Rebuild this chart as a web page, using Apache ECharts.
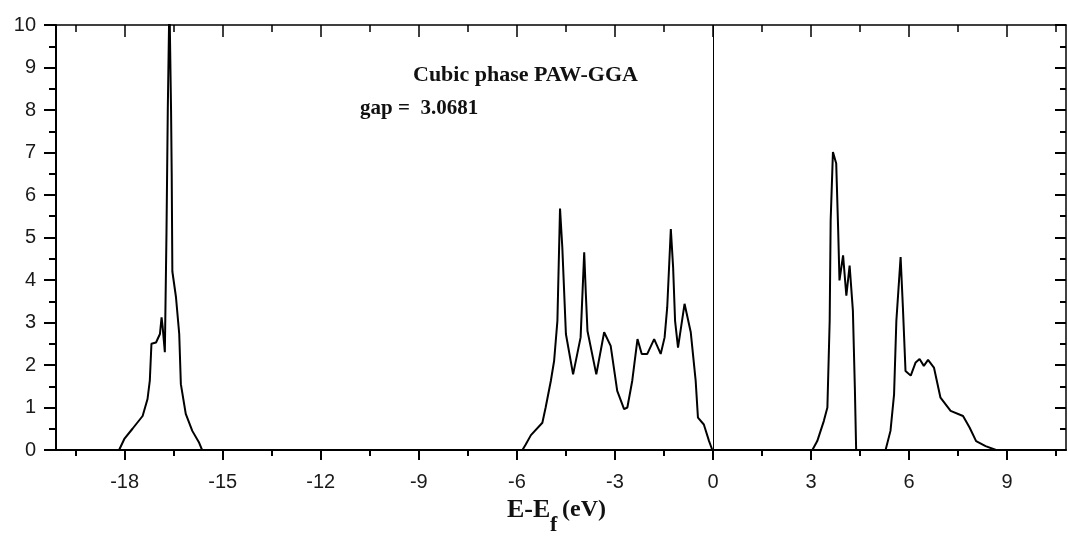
<!DOCTYPE html>
<html lang="en">
<head>
    <meta charset="UTF-8">
    <title>Cubic phase PAW-GGA DOS</title>
    <script src="https://cdn.jsdelivr.net/npm/echarts@6/dist/echarts.min.js"></script>
    <style>
        html, body { margin: 0; padding: 0; background: #fff; }
        #chart { width: 1068px; height: 538px; }
    </style>
</head>
<body>
    <div id="chart"></div>
    <script>
        // energy (E-Ef, eV) and DOS values
        var energy = [
            -20.1, -18.17, -18.01, -17.76, -17.45, -17.3, -17.23, -17.18, -17.04, -16.92, -16.87, -16.84, -16.77,
            -16.72, -16.68, -16.63, -16.58, -16.56, -16.54, -16.43, -16.33, -16.28, -16.13, -15.93, -15.72, -15.63,
            -5.83, -5.73, -5.57, -5.22, -5.12, -4.96, -4.86, -4.76, -4.68, -4.61, -4.5, -4.28, -4.05, -3.94, -3.89,
            -3.84, -3.57, -3.33, -3.13, -2.93, -2.72, -2.62, -2.47, -2.31, -2.18, -2.01, -1.8, -1.6, -1.48, -1.4,
            -1.29, -1.22, -1.16, -1.07, -0.87, -0.68, -0.53, -0.46, -0.28, -0.12, -0.02,
            3.04, 3.19, 3.39, 3.5, 3.57, 3.6, 3.67, 3.77, 3.83, 3.87, 3.98, 4.08, 4.18, 4.28, 4.34, 4.38,
            5.28, 5.43, 5.54, 5.61, 5.74, 5.81, 5.89, 6.05, 6.2, 6.32, 6.45, 6.58, 6.76, 6.96, 7.27, 7.65, 7.85,
            8.05, 8.34, 8.66, 10.8
        ];
        var dos = [
            0, 0, 0.26, 0.5, 0.8, 1.2, 1.63, 2.5, 2.53, 2.73, 3.12, 2.92, 2.3,
            5.1, 8.0, 10.6, 8.0, 6.5, 4.2, 3.6, 2.73, 1.55, 0.85, 0.45, 0.17, 0,
            0, 0.13, 0.35, 0.64, 1.0, 1.63, 2.1, 3.04, 5.68, 4.77, 2.73, 1.78, 2.65, 4.65, 3.67,
            2.8, 1.78, 2.77, 2.45, 1.39, 0.96, 1.0, 1.63, 2.61, 2.26, 2.26, 2.61, 2.26, 2.65, 3.36,
            5.2, 4.3, 3.04, 2.41, 3.44, 2.77, 1.63, 0.76, 0.6, 0.21, 0,
            0, 0.21, 0.68, 1.0, 3.04, 5.4, 7.01, 6.74, 5.17, 3.99, 4.58, 3.63, 4.34, 3.28, 1.47, 0,
            0, 0.45, 1.31, 3.04, 4.54, 3.36, 1.86, 1.75, 2.06, 2.14, 1.98, 2.12, 1.94, 1.23, 0.92, 0.8, 0.53,
            0.21, 0.09, 0, 0
        ];
        var xMajorTicks = [-18, -15, -12, -9, -6, -3, 0, 3, 6, 9];
        var xMinorTicks = [-19.5, -16.5, -13.5, -10.5, -7.5, -4.5, -1.5, 1.5, 4.5, 7.5, 10.5];
        var xMin = -20.1, xMax = 10.8;

        var points = energy.map(function (e, i) { return [e, dos[i]]; });

        var sans = 'Liberation Sans, Arial, sans-serif';
        var serif = 'Liberation Serif, Times New Roman, serif';

        var myChart = echarts.init(document.getElementById('chart'));
        var option = {
            animation: false,
            backgroundColor: '#fff',
            grid: { left: 56, right: 2, top: 25, bottom: 88 },
            xAxis: [
                { // bottom, major ticks + labels
                    type: 'value', min: xMin, max: xMax, position: 'bottom',
                    axisLine: { onZero: false, lineStyle: { color: '#000', width: 2 } },
                    axisTick: { customValues: xMajorTicks, length: 10, lineStyle: { color: '#000', width: 2 } },
                    axisLabel: { customValues: xMajorTicks, fontSize: 20, color: '#1a1a1a', fontFamily: sans, margin: 22 },
                    splitLine: { show: false }
                },
                { // bottom minor ticks
                    type: 'value', min: xMin, max: xMax, position: 'bottom',
                    axisLine: { show: false, onZero: false },
                    axisTick: { customValues: xMinorTicks, length: 6, lineStyle: { color: '#000', width: 2 } },
                    axisLabel: { show: false },
                    splitLine: { show: false }
                },
                { // top mirror
                    type: 'value', min: xMin, max: xMax, position: 'top',
                    axisLine: { onZero: false, lineStyle: { color: '#000', width: 1.5 } },
                    axisTick: { inside: true, customValues: xMajorTicks, length: 12, lineStyle: { color: '#000', width: 1.5 } },
                    axisLabel: { show: false },
                    splitLine: { show: false }
                },
                {
                    type: 'value', min: xMin, max: xMax, position: 'top',
                    axisLine: { show: false, onZero: false },
                    axisTick: { inside: true, customValues: xMinorTicks, length: 7, lineStyle: { color: '#000', width: 1.5 } },
                    axisLabel: { show: false },
                    splitLine: { show: false }
                }
            ],
            yAxis: [
                {
                    type: 'value', min: 0, max: 10, interval: 1, position: 'left',
                    axisLine: { show: true, onZero: false, lineStyle: { color: '#000', width: 2 } },
                    axisTick: { show: true, length: 12, lineStyle: { color: '#000', width: 2 } },
                    minorTick: { show: true, splitNumber: 2, length: 7, lineStyle: { color: '#000', width: 2 } },
                    axisLabel: { fontSize: 20, color: '#1a1a1a', fontFamily: sans, margin: 20 },
                    splitLine: { show: false }
                },
                {
                    type: 'value', min: 0, max: 10, interval: 1, position: 'right',
                    axisLine: { show: true, onZero: false, lineStyle: { color: '#000', width: 1.5 } },
                    axisTick: { show: true, inside: true, length: 11, lineStyle: { color: '#000', width: 2 } },
                    minorTick: { show: true, splitNumber: 2, length: 6, lineStyle: { color: '#000', width: 2 } },
                    axisLabel: { show: false },
                    splitLine: { show: false }
                }
            ],
            series: [{
                name: 'DOS',
                type: 'line',
                xAxisIndex: 0,
                yAxisIndex: 0,
                data: points,
                showSymbol: false,
                clip: true,
                lineStyle: { color: '#000', width: 2 },
                markLine: { // Fermi level
                    silent: true,
                    symbol: 'none',
                    label: { show: false },
                    lineStyle: { color: '#000', width: 1, type: 'solid' },
                    data: [{ xAxis: 0 }]
                }
            }],
            graphic: [
                {
                    type: 'text', left: 413, top: 64,
                    style: { text: 'Cubic phase PAW-GGA', font: 'bold 22px ' + serif, fill: '#111' }
                },
                {
                    type: 'text', left: 360, top: 98,
                    style: { text: 'gap =  3.0681', font: 'bold 21px ' + serif, fill: '#111' }
                },
                {
                    type: 'text', left: 507, top: 497,
                    style: { text: 'E-E', font: 'bold 26px ' + serif, fill: '#111' }
                },
                {
                    type: 'text', left: 550, top: 514,
                    style: { text: 'f', font: 'bold 22px ' + serif, fill: '#111' }
                },
                {
                    type: 'text', left: 562, top: 498,
                    style: { text: '(eV)', font: 'bold 24px ' + serif, fill: '#111' }
                }
            ]
        };
        myChart.setOption(option);
    </script>
</body>
</html>
